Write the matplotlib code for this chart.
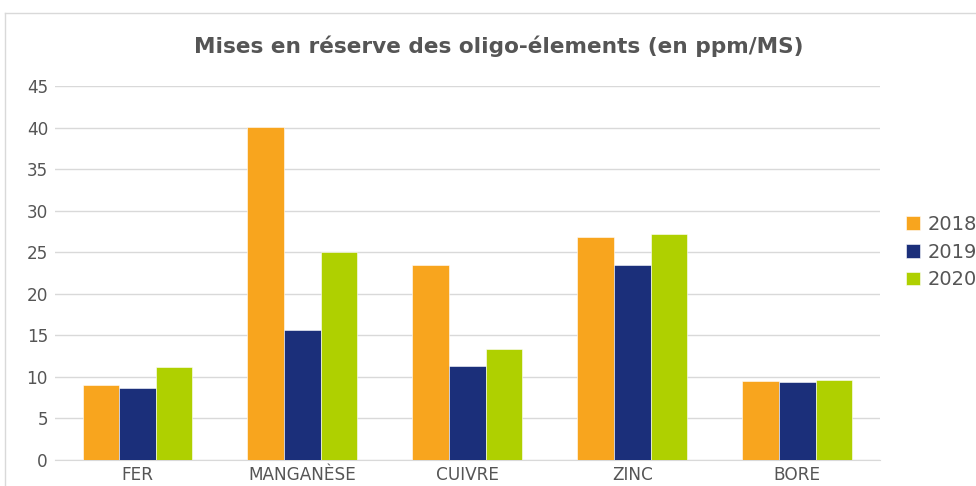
import numpy as np
import matplotlib.pyplot as plt
from matplotlib.lines import Line2D

# Werte (ppm/MS)
elements = ['FER', 'MANGANÈSE', 'CUIVRE', 'ZINC', 'BORE']
years = ['2018', '2019', '2020']
v2018 = [9.0, 40.1, 23.5, 26.8, 9.5]
v2019 = [8.7, 15.6, 11.3, 23.5, 9.4]
v2020 = [11.2, 25.0, 13.4, 27.2, 9.6]
colors = ['#F8A51E', '#1B2F7A', '#AFD000']
yticks = list(range(0, 50, 5))

fig = plt.figure(figsize=(9.76, 4.86), dpi=100)
ax = fig.add_axes([0.0564, 0.0535, 0.845, 0.7695])

x = np.arange(len(elements))
w = 0.2222
for i, (vals, c, lab) in enumerate(zip([v2018, v2019, v2020], colors, years)):
    ax.bar(x + (i - 1) * w, vals, width=w, color=c, label=lab, zorder=3,
           edgecolor='white', linewidth=0.4)

ax.set_xlim(-0.5, len(elements) - 0.5)
ax.set_ylim(0, 45)
ax.set_yticks(yticks)
ax.set_xticks(x)
ax.set_xticklabels(elements)
ax.tick_params(axis='both', length=0, labelsize=12.2, labelcolor='#555555')
ax.tick_params(axis='y', pad=5)
ax.tick_params(axis='x', pad=4)
ax.grid(axis='y', color='#d9d9d9', linewidth=1, zorder=0)
for s in ['top', 'right', 'left']:
    ax.spines[s].set_visible(False)
ax.spines['bottom'].set_color('#d9d9d9')

fig.text(0.511, 0.904, 'Mises en réserve des oligo-élements (en ppm/MS)',
         ha='center', va='center', fontsize=15.6, fontweight='bold', color='#555555')

ax.legend(loc='center left', bbox_to_anchor=(1.011, 0.556), frameon=False,
          fontsize=14, labelcolor='#555555', handlelength=0.7, handleheight=0.7,
          handletextpad=0.4, labelspacing=0.45)

# Rahmen um die Grafik
fig.add_artist(Line2D([5 / 976, 1], [1 - 13 / 486] * 2, transform=fig.transFigure,
                      color='#d9d9d9', linewidth=1))
fig.add_artist(Line2D([5 / 976] * 2, [0, 1 - 13 / 486], transform=fig.transFigure,
                      color='#d9d9d9', linewidth=1))

fig.savefig('out.png', dpi=100)
